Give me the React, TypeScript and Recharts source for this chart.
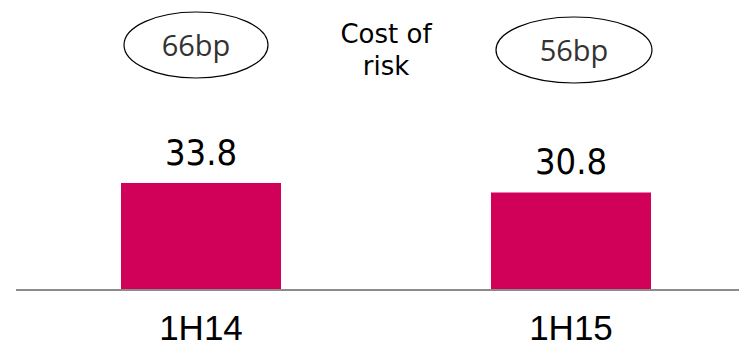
import { BarChart, Bar, XAxis, YAxis, LabelList } from "recharts";

const periods = ["1H14", "1H15"];
const values = [33.8, 30.8];
const costOfRisk = ["66bp", "56bp"];

const data = periods.map((p, i) => ({ period: p, value: values[i], cor: costOfRisk[i] }));

// ellipse badge with the cost of risk, placed above each bar
const RiskBadge = (props: any) => {
  const { x, width, value, index } = props;
  const cx = x + width / 2 + (index === 0 ? -5 : 3);
  const cy = index === 0 ? 45 : 50;
  const rx = index === 0 ? 72 : 78;
  return (
    <g>
      <ellipse cx={cx} cy={cy} rx={rx} ry={33} fill="none" stroke="#000" strokeWidth={1.2} />
      <text
        x={cx}
        y={cy + 11}
        textAnchor="middle"
        fontFamily="Open Sans, sans-serif"
        fontSize={29}
        fill="#333"
      >
        {value}
      </text>
    </g>
  );
};

const App = () => {
  return (
    <div
      style={{
        position: "absolute",
        left: 0,
        top: 0,
        width: 739,
        height: 348,
        overflow: "hidden",
        background: "#fff",
      }}
    >
      <div
        style={{
          position: "absolute",
          left: 326,
          top: 18,
          width: 120,
          textAlign: "center",
          fontFamily: "DejaVu Sans, sans-serif",
          fontSize: 26,
          lineHeight: "32px",
          color: "#000",
        }}
      >
        <div>Cost of</div>
        <div>risk</div>
      </div>
      <BarChart
        width={760}
        height={348}
        data={data}
        margin={{ top: 100, right: 4, left: 16, bottom: 28 }}
      >
        <XAxis
          dataKey="period"
          axisLine={{ stroke: "#8c8c8c", strokeWidth: 2 }}
          tickLine={false}
          tickMargin={19}
          tick={{ fill: "#000", fontSize: 35, fontFamily: "Liberation Sans, Arial, sans-serif" }}
        />
        <YAxis hide domain={[0, 60]} />
        <Bar dataKey="value" fill="#d10059" barSize={160} isAnimationActive={false}>
          <LabelList
            dataKey="value"
            position="top"
            offset={18}
            fill="#000"
            fontSize={36}
            fontFamily="DejaVu Sans Condensed, sans-serif"
            formatter={(v: any) => Number(v).toFixed(1)}
          />
          <LabelList dataKey="cor" content={<RiskBadge />} />
        </Bar>
      </BarChart>
    </div>
  );
};

export default App;
